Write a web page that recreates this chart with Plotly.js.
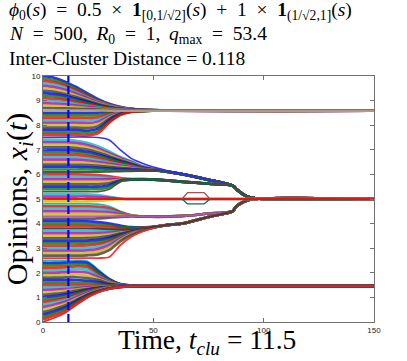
<!DOCTYPE html>
<html><head><meta charset="utf-8">
<script src="https://cdn.plot.ly/plotly-3.0.1.min.js"></script>
<style>html,body{margin:0;padding:0;background:#fff}#chart{width:407px;height:361px}</style>
</head><body><div id="chart"></div>
<script>
// ---------- data ----------
const tClu = 11.5;
const xTickVals = [0, 50, 100, 150];
const yTickVals = [0, 1, 2, 3, 4, 5, 6, 7, 8, 9, 10];
const headerLines = [
  '<i>ϕ</i><sub>0</sub>(<i>s</i>)\u2002=\u20020.5\u2002×\u2002<b>1</b><sub>[0,1/√2]</sub>(<i>s</i>)\u2002+\u20021\u2002×\u2002<b>1</b><sub>(1/√2,1]</sub>(<i>s</i>)',
  '<i>N</i>\u2002=\u2002500,\u2009 <i>R</i><sub>0</sub>\u2002=\u20021,\u2009 <i>q</i><sub>max</sub>\u2002=\u200253.4',
  'Inter-Cluster Distance = 0.118'
];
const xTitle = 'Time, <i>t</i><sub><i>clu</i></sub> = 11.5';
const yTitle = 'Opinions, <i>x<sub>i</sub></i>(<i>t</i>)';

// Group 1: agents converging to 8.59
const tG1 = [0, 5, 10, 15, 20, 25, 30, 35, 40, 50, 150];
const g1 = [
  [10.00,9.93,9.77,9.55,9.30,9.06,8.87,8.75,8.67,8.61,8.59],
  [9.90,9.83,9.69,9.48,9.25,9.02,8.85,8.73,8.66,8.61,8.59],
  [9.80,9.74,9.61,9.41,9.20,8.99,8.83,8.72,8.66,8.61,8.59],
  [9.70,9.64,9.52,9.34,9.15,8.96,8.81,8.71,8.65,8.61,8.59],
  [9.60,9.55,9.44,9.28,9.10,8.92,8.79,8.70,8.65,8.60,8.59],
  [9.50,9.45,9.35,9.21,9.05,8.89,8.77,8.69,8.64,8.60,8.59],
  [9.40,9.36,9.27,9.14,9.00,8.86,8.75,8.68,8.64,8.60,8.59],
  [9.30,9.26,9.19,9.07,8.95,8.82,8.73,8.67,8.63,8.60,8.59],
  [9.20,9.17,9.10,9.00,8.90,8.79,8.71,8.66,8.62,8.60,8.59],
  [9.10,9.07,9.02,8.94,8.85,8.76,8.69,8.65,8.62,8.60,8.59],
  [9.00,8.98,8.93,8.87,8.80,8.73,8.67,8.64,8.61,8.60,8.59],
  [8.90,8.88,8.85,8.80,8.75,8.69,8.65,8.62,8.61,8.59,8.59],
  [8.80,8.79,8.77,8.73,8.70,8.66,8.63,8.61,8.60,8.59,8.59],
  [8.70,8.69,8.68,8.66,8.65,8.63,8.61,8.60,8.60,8.59,8.59],
  [8.50,8.50,8.50,8.50,8.50,8.51,8.55,8.57,8.59,8.59,8.59],
  [8.40,8.40,8.40,8.40,8.40,8.42,8.50,8.56,8.58,8.59,8.59],
  [8.30,8.30,8.30,8.30,8.29,8.32,8.45,8.54,8.58,8.59,8.59],
  [8.20,8.20,8.20,8.20,8.19,8.23,8.40,8.52,8.57,8.59,8.59],
  [8.10,8.10,8.10,8.10,8.08,8.14,8.35,8.50,8.57,8.59,8.59],
  [8.00,8.00,8.00,8.00,7.98,8.05,8.30,8.48,8.56,8.59,8.59],
  [7.90,7.90,7.90,7.90,7.88,7.96,8.25,8.47,8.56,8.59,8.59],
  [7.80,7.80,7.80,7.80,7.77,7.86,8.20,8.45,8.55,8.59,8.59],
  [7.70,7.70,7.70,7.70,7.67,7.77,8.15,8.43,8.55,8.59,8.59],
  [7.60,7.60,7.60,7.60,7.58,7.68,8.10,8.41,8.54,8.59,8.59],
  [8.60,8.60,8.60,8.60,8.60,8.60,8.59,8.59,8.59,8.59,8.59]
];

// Blue straggler starting at 7.5
const tBlue = [0, 25, 30, 35, 40, 45, 50];
const vBlue = [7.50, 7.50, 7.40, 7.00, 6.65, 6.45, 6.30];

// Group 2 (6.1 .. 7.4) and its later cluster track
const tG2 = [0, 10, 15, 20, 25, 30, 35, 40, 45, 52];
const g2 = [
  [7.40,7.40,7.36,7.28,7.13,6.93,6.71,6.53,6.34,6.18],
  [7.30,7.30,7.27,7.19,7.05,6.86,6.67,6.50,6.32,6.17],
  [7.20,7.20,7.17,7.10,6.97,6.80,6.62,6.47,6.31,6.17],
  [7.10,7.10,7.07,7.01,6.89,6.74,6.58,6.44,6.29,6.17],
  [7.00,7.00,6.97,6.92,6.81,6.68,6.53,6.41,6.28,6.17],
  [6.90,6.90,6.88,6.83,6.74,6.62,6.49,6.38,6.26,6.17],
  [6.80,6.80,6.78,6.74,6.66,6.55,6.44,6.35,6.25,6.16],
  [6.70,6.70,6.68,6.65,6.58,6.49,6.40,6.32,6.23,6.16],
  [6.60,6.60,6.59,6.56,6.50,6.43,6.35,6.29,6.22,6.16],
  [6.50,6.50,6.49,6.47,6.42,6.37,6.31,6.26,6.20,6.16],
  [6.40,6.40,6.39,6.38,6.35,6.31,6.26,6.23,6.19,6.16],
  [6.30,6.30,6.30,6.29,6.27,6.24,6.22,6.20,6.17,6.15],
  [6.20,6.20,6.20,6.20,6.19,6.18,6.17,6.17,6.16,6.15],
  [6.10,6.10,6.10,6.10,6.10,6.11,6.12,6.13,6.14,6.15]
];
const tailT2 = [63.6, 75, 86, 88, 92.5, 97, 150];
const tailV2 = [6.00, 5.78, 5.54, 5.37, 5.10, 5.02, 5.00];

// Group 3 (5.3 .. 6.0)
const tG3 = [0, 15, 20, 25, 30, 33, 36, 40, 48.5];
const g3 = [
  [6.00,6.00,5.99,5.97,5.92,5.88,5.84,5.81,5.80],
  [5.90,5.90,5.90,5.89,5.86,5.84,5.82,5.81,5.80],
  [5.80,5.80,5.80,5.80,5.80,5.80,5.80,5.80,5.80],
  [5.70,5.70,5.70,5.70,5.72,5.76,5.79,5.80,5.80],
  [5.60,5.60,5.60,5.60,5.64,5.71,5.78,5.79,5.80],
  [5.50,5.50,5.50,5.50,5.56,5.67,5.76,5.79,5.80],
  [5.40,5.40,5.40,5.40,5.48,5.62,5.75,5.79,5.80],
  [5.30,5.30,5.30,5.30,5.40,5.58,5.74,5.79,5.80]
];
const tailT3 = [63.6, 75, 86, 88, 92.5, 97, 150];
const tailV3 = [5.70, 5.62, 5.54, 5.37, 5.10, 5.02, 5.00];

// Group 4 (4.9 .. 5.2) converging to 5.0
const tG4 = [0, 15, 20, 25, 30, 35, 40, 150];
const g4 = [
  [5.20,5.20,5.19,5.16,5.09,5.02,5.00,5.00],
  [5.10,5.10,5.10,5.08,5.05,5.01,5.00,5.00],
  [4.90,4.90,4.90,4.92,4.96,4.99,5.00,5.00],
  [5.00,5.00,5.00,5.00,5.00,5.00,5.00,5.00]
];
// split and rejoin near t = 63..76
const hexT = [63, 65.5, 73, 75.7];
const hexUp = [5.00, 5.26, 5.26, 5.00];
const hexDown = [5.00, 4.80, 4.80, 5.00];

// Group 5 (4.2 .. 4.8) converging to 4.3
const tG5 = [0, 15, 20, 25, 30, 35, 40, 48.5];
const g5 = [
  [4.80,4.80,4.80,4.79,4.70,4.50,4.35,4.28],
  [4.70,4.70,4.70,4.69,4.62,4.46,4.34,4.28],
  [4.60,4.60,4.60,4.59,4.54,4.42,4.33,4.28],
  [4.50,4.50,4.50,4.49,4.46,4.38,4.32,4.28],
  [4.40,4.40,4.40,4.40,4.38,4.34,4.31,4.28],
  [4.20,4.20,4.20,4.21,4.24,4.27,4.29,4.28],
  [4.30,4.30,4.30,4.30,4.30,4.30,4.30,4.28]
];
const tailT5 = [63.6, 75, 86, 87.5, 91, 95.5, 150];
const tailV5 = [4.31, 4.41, 4.51, 4.69, 4.89, 5.00, 5.00];

// Group 6 (2.6 .. 4.1) converging to about 3.85
const tG6 = [0, 15, 20, 25, 30, 35, 40, 48.5];
const g6 = [
  [4.10,4.10,4.09,4.06,4.00,3.92,3.86,3.86],
  [4.00,4.00,3.99,3.97,3.93,3.87,3.83,3.86],
  [3.90,3.90,3.90,3.88,3.85,3.81,3.80,3.85],
  [3.70,3.70,3.70,3.70,3.70,3.71,3.75,3.84],
  [3.60,3.60,3.60,3.61,3.63,3.67,3.73,3.84],
  [3.50,3.50,3.50,3.52,3.56,3.63,3.71,3.83],
  [3.40,3.40,3.41,3.43,3.49,3.59,3.69,3.83],
  [3.30,3.30,3.31,3.34,3.42,3.55,3.67,3.82],
  [3.20,3.20,3.21,3.25,3.35,3.51,3.65,3.82],
  [3.10,3.10,3.11,3.16,3.28,3.47,3.63,3.81],
  [3.00,3.00,3.01,3.06,3.20,3.43,3.61,3.81],
  [2.90,2.90,2.91,2.96,3.12,3.39,3.59,3.81],
  [2.80,2.80,2.81,2.86,3.03,3.34,3.57,3.80],
  [2.70,2.70,2.71,2.75,2.92,3.28,3.54,3.80],
  [2.60,2.60,2.60,2.60,2.64,3.12,3.46,3.78],
  [3.80,3.80,3.80,3.79,3.77,3.76,3.77,3.85]
];
const tailT6 = [55, 63.6, 75, 86, 87.5, 91, 95.5, 150];
const tailV6 = [3.93, 4.01, 4.27, 4.51, 4.69, 4.89, 5.00, 5.00];

// Group 7 (0 .. 2.5) converging to 1.46
const tG7 = [0, 5, 10, 15, 20, 25, 30, 35, 40, 50, 150];
const g7 = [
  [2.50,2.50,2.50,2.50,2.48,2.13,1.77,1.56,1.49,1.46,1.46],
  [2.40,2.40,2.41,2.43,2.41,2.06,1.74,1.54,1.49,1.46,1.46],
  [2.30,2.30,2.32,2.35,2.33,2.00,1.71,1.53,1.48,1.46,1.46],
  [2.20,2.20,2.22,2.26,2.24,1.94,1.68,1.52,1.48,1.46,1.46],
  [2.10,2.10,2.12,2.15,2.13,1.88,1.65,1.51,1.48,1.46,1.46],
  [2.00,2.00,2.02,2.04,2.01,1.82,1.62,1.50,1.48,1.46,1.46],
  [1.90,1.90,1.91,1.93,1.89,1.76,1.59,1.49,1.47,1.46,1.46],
  [1.80,1.80,1.81,1.82,1.78,1.70,1.56,1.49,1.47,1.46,1.46],
  [1.70,1.70,1.70,1.70,1.67,1.62,1.53,1.48,1.47,1.46,1.46],
  [1.60,1.60,1.60,1.59,1.57,1.55,1.50,1.47,1.46,1.46,1.46],
  [1.50,1.50,1.50,1.49,1.48,1.47,1.47,1.46,1.46,1.46,1.46],
  [1.40,1.41,1.42,1.43,1.44,1.45,1.46,1.46,1.46,1.46,1.46],
  [1.30,1.32,1.34,1.37,1.41,1.43,1.45,1.46,1.46,1.46,1.46],
  [1.20,1.23,1.27,1.32,1.37,1.41,1.44,1.45,1.46,1.46,1.46],
  [1.10,1.14,1.19,1.27,1.34,1.40,1.43,1.45,1.46,1.46,1.46],
  [1.00,1.05,1.12,1.21,1.31,1.38,1.42,1.45,1.46,1.46,1.46],
  [0.90,0.96,1.04,1.16,1.28,1.36,1.41,1.44,1.46,1.46,1.46],
  [0.80,0.88,0.97,1.11,1.24,1.34,1.41,1.44,1.46,1.46,1.46],
  [0.70,0.79,0.89,1.05,1.21,1.32,1.40,1.44,1.45,1.46,1.46],
  [0.60,0.70,0.82,1.00,1.18,1.31,1.39,1.44,1.45,1.46,1.46],
  [0.50,0.61,0.74,0.95,1.14,1.29,1.38,1.43,1.45,1.46,1.46],
  [0.40,0.52,0.67,0.89,1.11,1.27,1.37,1.43,1.45,1.46,1.46],
  [0.30,0.43,0.59,0.84,1.08,1.25,1.36,1.43,1.45,1.46,1.46],
  [0.20,0.35,0.52,0.79,1.05,1.24,1.36,1.43,1.45,1.46,1.46],
  [0.10,0.26,0.44,0.73,1.01,1.22,1.35,1.42,1.45,1.46,1.46],
  [0.00,0.17,0.37,0.68,0.98,1.20,1.34,1.42,1.45,1.46,1.46]
];

// ---------- styling ----------
const palette = ['#0000ff', '#008000', '#ff0000', '#00bfbf', '#bf00bf', '#bfbf00', '#404040'];
const LW = 2.7, OP = 0.82;
const traces = [];
let ci = 0;
function addLine(t, v, tailT, tailV, color, extra) {
  const c = color || palette[(ci++) % palette.length];
  traces.push(Object.assign({
    type: 'scatter', mode: 'lines',
    x: tailT ? t.concat(tailT) : t,
    y: tailV ? v.concat(tailV) : v,
    line: {color: c, width: LW, shape: 'spline', smoothing: 0.8},
    opacity: OP, hoverinfo: 'skip', showlegend: false
  }, extra || {}));
}
const solid = (c, w) => ({line: {color: c, width: w || 2, shape: 'spline', smoothing: 0.8}, opacity: 0.95});

g1.forEach((v, i) => addLine(tG1, v, null, null, i === g1.length - 1 ? '#aba28f' : null, i === g1.length - 1 ? solid('#aba28f', 2.4) : null));
g2.forEach((v, i) => addLine(tG2, v, tailT2, tailV2, i === g2.length - 1 ? '#4a4a4a' : null, i === g2.length - 1 ? solid('#4a4a4a') : null));
addLine(tBlue, vBlue, tailT2, tailV2, '#2a2aff', solid('#2a2aff', 1.6));
g3.forEach((v, i) => addLine(tG3, v, tailT3, tailV3, i === g3.length - 1 ? '#4e4a44' : null, i === g3.length - 1 ? solid('#4e4a44', 1.6) : null));
g5.forEach((v, i) => {
  const special = i === 0 ? '#00c0c0' : (i === g5.length - 1 ? '#b455b4' : null);
  addLine(tG5, v, tailT5, tailV5, special, special ? solid(special, 1.8) : null);
});
g6.forEach((v, i) => {
  const special = i === g6.length - 2 ? '#ff2a2a' : (i === g6.length - 1 ? '#3c3c3c' : null);
  addLine(tG6, v, tailT6, tailV6, special, special ? solid(special, 1.8) : null);
});
g7.forEach((v, i) => {
  const special = i === 0 ? '#00c0c0' : (i === g7.length - 1 ? '#c83030' : null);
  addLine(tG7, v, null, null, special, special ? solid(special, 1.8) : null);
});
g4.forEach((v, i) => {
  const special = i === g4.length - 1 ? '#e01010' : null;
  addLine(tG4, v, null, null, special, special ? solid(special, 2) : null);
});
addLine(hexT, hexUp, null, null, '#a8504a', {line: {color: '#a8504a', width: 1.4, shape: 'linear'}, opacity: 1});
addLine(hexT, hexDown, null, null, '#0f6b55', {line: {color: '#0f6b55', width: 1.4, shape: 'linear'}, opacity: 1});

// t_clu marker
traces.push({type: 'scatter', mode: 'lines', x: [tClu, tClu], y: [0, 10],
  line: {color: '#0000ff', width: 2.2, dash: '8px,4px'}, hoverinfo: 'skip', showlegend: false});

const serif = 'Liberation Serif, Times New Roman, serif';
const axisCommon = {
  showgrid: false, zeroline: false, showline: true, linecolor: '#707070', linewidth: 1,
  mirror: 'ticks', ticks: 'inside', ticklen: 4, tickcolor: '#707070',
  tickfont: {family: 'Liberation Sans, Arial, sans-serif', size: 8, color: '#222'}
};

// header lines positioned in paper units (plot area: 43..374 px wide, 76..322 px tall)
const headerY = [1.262, 1.168, 1.073];
const annotations = headerLines.map((txt, i) => ({
  text: txt, xref: 'paper', yref: 'paper', x: -0.109, y: headerY[i],
  xanchor: 'left', yanchor: 'middle', showarrow: false,
  font: {family: serif, size: 19.5, color: '#000'}
}));
annotations.push({
  text: xTitle, xref: 'paper', yref: 'paper', x: 0.494, y: -0.157,
  xanchor: 'center', yanchor: 'bottom', showarrow: false,
  font: {family: serif, size: 27.5, color: '#000'}
});

const layout = {
  width: 407, height: 361,
  margin: {l: 43, r: 33, t: 76, b: 39, pad: 0},
  paper_bgcolor: '#fff', plot_bgcolor: '#fff',
  showlegend: false, hovermode: false,
  annotations: annotations,
  xaxis: Object.assign({}, axisCommon, {
    range: [0, 150], tickvals: xTickVals, ticktext: xTickVals.map(String)
  }),
  yaxis: Object.assign({}, axisCommon, {
    range: [0, 10], tickvals: yTickVals, ticktext: yTickVals.map(String),
    title: {text: yTitle, font: {family: serif, size: 30, color: '#000'}, standoff: 3}
  })
};

Plotly.newPlot('chart', traces, layout, {staticPlot: true, displayModeBar: false});
</script></body></html>
